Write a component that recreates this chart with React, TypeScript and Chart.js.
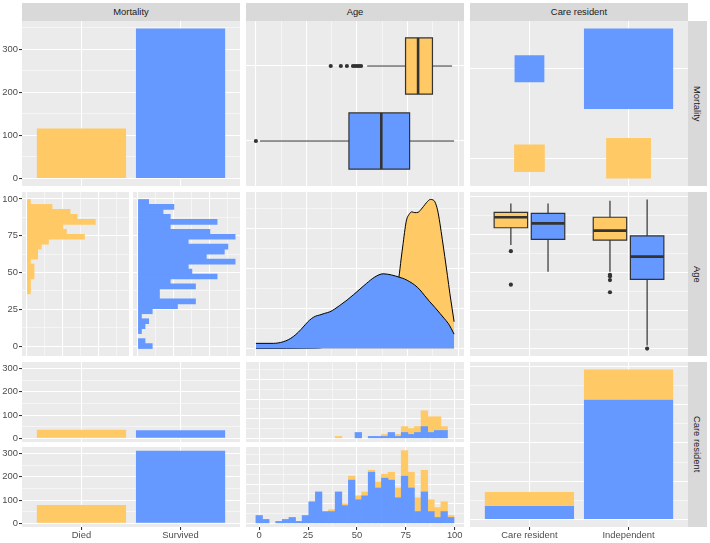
import React, { useEffect, useRef } from "react";
import { Chart, registerables } from "chart.js";

Chart.register(...registerables);

// ---------------- data ----------------
const variableNames = ["Mortality", "Age", "Care resident"];
const mortalityLevels = ["Died", "Survived"];
const careLevels = ["Care resident", "Independent"];

// patient counts
const mortalityTotals = [116, 348]; // Died, Survived
const careResidentByMortality = [37, 35]; // Died, Survived
const independentByMortality = [79, 313]; // Died, Survived

// age histogram: 30 bins (centres, years)
const ageBinCentres = [0, 3.379, 6.759, 10.138, 13.517, 16.897, 20.276, 23.655, 27.034, 30.414, 33.793, 37.172, 40.552, 43.931, 47.31, 50.69, 54.069, 57.448, 60.828, 64.207, 67.586, 70.966, 74.345, 77.724, 81.103, 84.483, 87.862, 91.241, 94.621, 98];
const diedCareResidentHist = [0, 0, 0, 0, 0, 0, 0, 0, 0, 0, 0, 0, 1, 0, 0, 0, 0, 0, 0, 1, 0, 1, 3, 3, 3, 8, 8, 7, 2, 0];
const survivedCareResidentHist = [0, 0, 0, 0, 0, 0, 0, 0, 0, 0, 0, 0, 0, 0, 0, 3, 0, 1, 1, 1, 3, 1, 3, 2, 3, 6, 3, 4, 4, 0];
const diedIndependentHist = [0, 0, 0, 0, 0, 0, 0, 0, 0, 0, 0, 1, 0, 1, 2, 2, 2, 1, 3, 2, 4, 5, 13, 8, 7, 11, 6, 5, 5, 1];
const survivedIndependentHist = [4, 2, 0, 1, 2, 3, 1, 4, 11, 16, 6, 6, 16, 9, 22, 12, 14, 26, 18, 23, 22, 13, 24, 18, 6, 16, 6, 3, 6, 3];

// age densities
const survivedDensityAge = [0, 5, 8.6, 11, 13.5, 16, 18.5, 21, 23.4, 25.5, 27.5, 29.5, 31.6, 34, 36.6, 39, 41.5, 45, 48.1, 51.5, 54.7, 58.8, 62.9, 67.1, 71.2, 73.5, 76.1, 78.5, 81.1, 83.5, 86, 88.5, 91, 93, 95.1, 96.6, 98];
const survivedDensity = [0.0013, 0.0013, 0.0013, 0.0014, 0.0017, 0.0022, 0.003, 0.0041, 0.0054, 0.0066, 0.0075, 0.0081, 0.0084, 0.0088, 0.0092, 0.0099, 0.0108, 0.0121, 0.0134, 0.0149, 0.0163, 0.0179, 0.0187, 0.0184, 0.0178, 0.0174, 0.0167, 0.0159, 0.0147, 0.0132, 0.0117, 0.0103, 0.0088, 0.0076, 0.0063, 0.005, 0.0036];
const diedDensityAge = [0, 30, 34, 37, 40, 44, 48, 52, 56, 60, 64, 67, 69, 70.7, 71.8, 72.8, 73.7, 74.5, 75.8, 77, 78.6, 80.3, 81.5, 82.8, 84.5, 86.3, 87.5, 88.5, 89.8, 91, 92.2, 93.4, 94.7, 95.9, 97, 98];
const diedDensity = [0, 0.0001, 0.0004, 0.0011, 0.0019, 0.0026, 0.0032, 0.0034, 0.0037, 0.0048, 0.0071, 0.0101, 0.0134, 0.0178, 0.0224, 0.0263, 0.0298, 0.0322, 0.0336, 0.0342, 0.034, 0.0341, 0.0347, 0.0355, 0.0366, 0.0373, 0.0372, 0.0367, 0.0347, 0.0313, 0.0272, 0.023, 0.0183, 0.0138, 0.0101, 0.0067];

// boxplot stats: [lower whisker, Q1, median, Q3, upper whisker]
const ageBoxDied = [55, 74, 80.2, 87.3, 97];
const ageOutliersDied = [37, 42, 45, 48, 49, 50, 51, 52];
const ageBoxSurvived = [2, 46, 62, 76, 98];
const ageOutliersSurvived = [0];
const ageBoxCareDied = [68, 79.4, 86.3, 89.5, 95.4];
const ageOutliersCareDied = [64, 42];
const ageBoxCareSurvived = [50.5, 71.8, 82.3, 88.9, 95.4];
const ageOutliersCareSurvived: number[] = [];
const ageBoxIndepDied = [50.5, 71.3, 77.5, 86.3, 97.2];
const ageOutliersIndepDied = [48.5, 47.5, 45, 37];
const ageBoxIndepSurvived = [2, 45.5, 60.4, 74, 98];
const ageOutliersIndepSurvived = [0];

// tick values
const ageMajor = [0, 25, 50, 75, 100];
const ageMinor = [12.5, 37.5, 62.5, 87.5];
const countMajor = [0, 100, 200, 300, 400];
const countMinor = [50, 150, 250, 350];
const binCountMajor = [0, 10, 20, 30];
const binCountMinor = [5, 15, 25, 35];
const densityMajor = [0, 0.01, 0.02, 0.03];
const densityMinor = [0.005, 0.015, 0.025, 0.035];
const discreteMajor = [1, 2];

// ---------------- style ----------------
const FONT = '"Liberation Sans", Arial, Helvetica, sans-serif';
const ORANGE = "#FFC966";
const BLUE = "#6699FF";
const PANEL_BG = "#EBEBEB";
const STRIP_BG = "#D9D9D9";
const DARK = "#333333";
const Y_AXIS_W = 22;
const X_AXIS_H = 16;

type Rect = { l: number; t: number; r: number; b: number };

const COLS = [{ l: 22, r: 240 }, { l: 246, r: 464 }, { l: 470, r: 688 }];
const ROWS = [{ t: 21, b: 186 }, { t: 192, b: 356 }, { t: 362, b: 527 }];
const SUB_GAP = 5;

function expand(lo: number, hi: number) {
  const d = (hi - lo) * 0.05;
  return [lo - d, hi + d];
}
const DISC = [0.4, 2.6];
const sum = (a: number[], b: number[]) => a.map((v, i) => v + b[i]);
const nz = (v: number) => (v === 0 ? null : v);

function axis(o: any) {
  const major: number[] = o.major;
  const minor: number[] = o.minor || [];
  const range: number[] = o.range;
  const all = [...major, ...minor].filter((v) => v >= range[0] && v <= range[1]).sort((a, b) => a - b);
  const idx = (v: number) => major.findIndex((m) => Math.abs(m - v) < 1e-9);
  return {
    type: "linear",
    position: o.horizontal ? "bottom" : "left",
    min: range[0],
    max: range[1],
    bounds: "data",
    offset: false,
    stacked: !!o.stacked,
    border: { display: false },
    grid: {
      offset: false,
      color: "#FFFFFF",
      lineWidth: (c: any) => (c.tick && idx(c.tick.value) >= 0 ? 1.07 : 0.53),
      drawTicks: !!o.show,
      tickLength: 3,
      tickWidth: 1.07,
      tickColor: (c: any) => (c.tick && idx(c.tick.value) >= 0 ? DARK : "rgba(0,0,0,0)"),
    },
    ticks: {
      display: !!o.show,
      autoSkip: false,
      maxRotation: 0,
      minRotation: 0,
      padding: o.horizontal ? 0 : 1,
      color: "#4D4D4D",
      font: { family: FONT, size: 9.4 },
      callback: (v: any) => {
        const i = idx(Number(v));
        if (i < 0) return "";
        return o.labels ? o.labels[i] : String(major[i]);
      },
    },
    afterBuildTicks: (s: any) => {
      s.ticks = all.map((v) => ({ value: v }));
    },
    afterFit: (s: any) => {
      if (o.horizontal) s.height = o.show ? X_AXIS_H : 0;
      else s.width = o.show ? Y_AXIS_W : 0;
      s.paddingLeft = 0;
      s.paddingRight = 0;
      s.paddingTop = 0;
      s.paddingBottom = 0;
    },
  };
}

function rectPoints(x0: number, x1: number, y0: number, y1: number) {
  return [
    { x: x0, y: y0 },
    { x: x1, y: y0 },
    { x: x1, y: y1 },
    { x: x0, y: y1 },
    { x: x0, y: y0 },
  ];
}

function boxplot(stats: number[], outliers: number[], pos: number, hw: number, color: string, horizontal: boolean) {
  const [lo, q1, med, q3, hi] = stats;
  const P = (v: number, p: number) => (horizontal ? { x: v, y: p } : { x: p, y: v });
  return [
    { type: "line", data: [P(lo, pos), P(hi, pos)], borderColor: DARK, borderWidth: 1.2, pointRadius: 0, fill: false, order: 4 },
    {
      type: "line",
      data: [P(q1, pos - hw), P(q3, pos - hw), P(q3, pos + hw), P(q1, pos + hw), P(q1, pos - hw)],
      borderColor: DARK,
      borderWidth: 1.2,
      borderCapStyle: "square",
      borderJoinStyle: "miter",
      backgroundColor: color,
      fill: "shape",
      pointRadius: 0,
      order: 3,
    },
    { type: "line", data: [P(med, pos - hw), P(med, pos + hw)], borderColor: DARK, borderWidth: 2.6, pointRadius: 0, fill: false, order: 2 },
    {
      type: "line",
      data: outliers.map((v) => P(v, pos)),
      showLine: false,
      pointRadius: 2.1,
      pointBackgroundColor: DARK,
      pointBorderWidth: 0,
      pointBorderColor: DARK,
      order: 1,
    },
  ];
}

const panelBackground = {
  id: "panelBackground",
  beforeDraw(chart: any) {
    const { ctx, chartArea: a } = chart;
    ctx.save();
    ctx.fillStyle = PANEL_BG;
    ctx.fillRect(a.left, a.top, a.right - a.left, a.bottom - a.top);
    ctx.restore();
  },
};

// ranges
const boxAges = [
  ...ageBoxDied, ...ageOutliersDied, ...ageBoxSurvived, ...ageOutliersSurvived,
  ...ageBoxCareDied, ...ageOutliersCareDied, ...ageBoxCareSurvived, ...ageOutliersCareSurvived,
  ...ageBoxIndepDied, ...ageOutliersIndepDied, ...ageBoxIndepSurvived, ...ageOutliersIndepSurvived,
];
const BOX_AGE_RANGE = expand(Math.min(...boxAges), Math.max(...boxAges));
const BIN_W = ageBinCentres[1] - ageBinCentres[0];
const HIST_AGE_RANGE = expand(ageBinCentres[0] - BIN_W / 2, ageBinCentres[ageBinCentres.length - 1] + BIN_W / 2);
const diedTotalsHist = sum(diedCareResidentHist, diedIndependentHist);
const survivedTotalsHist = sum(survivedCareResidentHist, survivedIndependentHist);
const DENS_AGE_RANGE = expand(
  Math.min(...survivedDensityAge, ...diedDensityAge),
  Math.max(...survivedDensityAge, ...diedDensityAge)
);

const ageAxis = (range: number[], show: boolean, horizontal: boolean) =>
  axis({ range, major: ageMajor, minor: ageMinor, show, horizontal });

// ---------------- panels ----------------
type PanelDef = { key: string; area: Rect; yLabels?: boolean; xLabels?: boolean; build: () => any };

const row3Top: Rect = { l: 0, r: 0, t: ROWS[2].t, b: (ROWS[2].t + ROWS[2].b - SUB_GAP) / 2 };
const row3Bot: Rect = { l: 0, r: 0, t: (ROWS[2].t + ROWS[2].b + SUB_GAP) / 2, b: ROWS[2].b };

const panels: PanelDef[] = [
  // (1,1) Mortality bar counts
  {
    key: "p11",
    area: { l: COLS[0].l, r: COLS[0].r, t: ROWS[0].t, b: ROWS[0].b },
    yLabels: true,
    build: () => ({
      type: "bar",
      data: {
        datasets: [
          {
            data: mortalityLevels.map((_, i) => ({ x: i + 1, y: mortalityTotals[i] })),
            backgroundColor: [ORANGE, BLUE],
            borderWidth: 0,
            barPercentage: 0.9,
            categoryPercentage: 1,
          },
        ],
      },
      options: {
        scales: {
          x: axis({ range: DISC, major: discreteMajor, horizontal: true }),
          y: axis({ range: expand(0, Math.max(...mortalityTotals)), major: countMajor, minor: countMinor, show: true }),
        },
      },
    }),
  },
  // (1,2) Age boxplots by mortality (horizontal)
  {
    key: "p12",
    area: { l: COLS[1].l, r: COLS[1].r, t: ROWS[0].t, b: ROWS[0].b },
    build: () => ({
      type: "line",
      data: {
        datasets: [
          ...boxplot(ageBoxDied, ageOutliersDied, 2, 0.375, ORANGE, true),
          ...boxplot(ageBoxSurvived, ageOutliersSurvived, 1, 0.375, BLUE, true),
        ],
      },
      options: {
        scales: {
          x: ageAxis(BOX_AGE_RANGE, false, true),
          y: axis({ range: DISC, major: discreteMajor }),
        },
      },
    }),
  },
  // (1,3) Mortality x Care resident tiles
  {
    key: "p13",
    area: { l: COLS[2].l, r: COLS[2].r, t: ROWS[0].t, b: ROWS[0].b },
    build: () => {
      const groups = [careResidentByMortality, independentByMortality];
      const maxN = Math.max(...careResidentByMortality, ...independentByMortality);
      const tiles: any[] = [];
      let lo = Infinity;
      let hi = -Infinity;
      groups.forEach((g, i) => {
        g.forEach((n, j) => {
          const h = 0.45 * Math.sqrt(n / maxN);
          const cx = i + 1;
          const cy = j + 1;
          lo = Math.min(lo, cy - h);
          hi = Math.max(hi, cy + h);
          tiles.push({
            type: "line",
            data: rectPoints(cx - h, cx + h, cy - h, cy + h),
            backgroundColor: j === 0 ? ORANGE : BLUE,
            borderColor: "rgba(0,0,0,0)",
            borderWidth: 0,
            fill: "shape",
            pointRadius: 0,
          });
        });
      });
      return {
        type: "line",
        data: { datasets: tiles },
        options: {
          scales: {
            x: axis({ range: DISC, major: discreteMajor, horizontal: true }),
            y: axis({ range: expand(lo, hi), major: discreteMajor }),
          },
        },
      };
    },
  },
  // (2,1) Age histograms faceted by mortality (horizontal bars)
  {
    key: "p21a",
    area: { l: COLS[0].l, r: 129, t: ROWS[1].t, b: ROWS[1].b },
    yLabels: true,
    build: () => ({
      type: "bar",
      data: {
        datasets: [
          {
            data: ageBinCentres.map((c, i) => ({ x: nz(diedTotalsHist[i]), y: c })),
            backgroundColor: ORANGE,
            borderWidth: 0,
            barPercentage: 1,
            categoryPercentage: 1,
          },
        ],
      },
      options: {
        indexAxis: "y",
        scales: {
          x: axis({ range: expand(0, Math.max(...diedTotalsHist, ...survivedTotalsHist)), major: binCountMajor, minor: binCountMinor, horizontal: true }),
          y: ageAxis(HIST_AGE_RANGE, true, false),
        },
      },
    }),
  },
  {
    key: "p21b",
    area: { l: 133, r: COLS[0].r, t: ROWS[1].t, b: ROWS[1].b },
    build: () => ({
      type: "bar",
      data: {
        datasets: [
          {
            data: ageBinCentres.map((c, i) => ({ x: nz(survivedTotalsHist[i]), y: c })),
            backgroundColor: BLUE,
            borderWidth: 0,
            barPercentage: 1,
            categoryPercentage: 1,
          },
        ],
      },
      options: {
        indexAxis: "y",
        scales: {
          x: axis({ range: expand(0, Math.max(...diedTotalsHist, ...survivedTotalsHist)), major: binCountMajor, minor: binCountMinor, horizontal: true }),
          y: ageAxis(HIST_AGE_RANGE, false, false),
        },
      },
    }),
  },
  // (2,2) Age densities
  {
    key: "p22",
    area: { l: COLS[1].l, r: COLS[1].r, t: ROWS[1].t, b: ROWS[1].b },
    build: () => ({
      type: "line",
      data: {
        datasets: [
          {
            data: survivedDensityAge.map((a, i) => ({ x: a, y: survivedDensity[i] })),
            backgroundColor: BLUE,
            borderColor: "#000000",
            borderWidth: 1,
            fill: "origin",
            cubicInterpolationMode: "monotone",
            pointRadius: 0,
            order: 1,
          },
          {
            data: diedDensityAge.map((a, i) => ({ x: a, y: diedDensity[i] })),
            backgroundColor: ORANGE,
            borderColor: "#000000",
            borderWidth: 1,
            fill: "origin",
            cubicInterpolationMode: "monotone",
            pointRadius: 0,
            order: 2,
          },
        ],
      },
      options: {
        scales: {
          x: ageAxis(DENS_AGE_RANGE, false, true),
          y: axis({ range: expand(0, Math.max(...survivedDensity, ...diedDensity)), major: densityMajor, minor: densityMinor }),
        },
      },
    }),
  },
  // (2,3) Age boxplots by care residence and mortality
  {
    key: "p23",
    area: { l: COLS[2].l, r: COLS[2].r, t: ROWS[1].t, b: ROWS[1].b },
    build: () => ({
      type: "line",
      data: {
        datasets: [
          ...boxplot(ageBoxCareDied, ageOutliersCareDied, 1 - 0.1875, 0.16875, ORANGE, false),
          ...boxplot(ageBoxCareSurvived, ageOutliersCareSurvived, 1 + 0.1875, 0.16875, BLUE, false),
          ...boxplot(ageBoxIndepDied, ageOutliersIndepDied, 2 - 0.1875, 0.16875, ORANGE, false),
          ...boxplot(ageBoxIndepSurvived, ageOutliersIndepSurvived, 2 + 0.1875, 0.16875, BLUE, false),
        ],
      },
      options: {
        scales: {
          x: axis({ range: DISC, major: discreteMajor, horizontal: true }),
          y: ageAxis(BOX_AGE_RANGE, false, false),
        },
      },
    }),
  },
  // (3,1) Mortality counts faceted by care residence
  ...[careResidentByMortality, independentByMortality].map((g, k) => ({
    key: "p31" + k,
    area: { l: COLS[0].l, r: COLS[0].r, t: k === 0 ? row3Top.t : row3Bot.t, b: k === 0 ? row3Top.b : row3Bot.b },
    yLabels: true,
    xLabels: k === 1,
    build: () => ({
      type: "bar",
      data: {
        datasets: [
          {
            data: mortalityLevels.map((_, i) => ({ x: i + 1, y: g[i] })),
            backgroundColor: [ORANGE, BLUE],
            borderWidth: 0,
            barPercentage: 0.9,
            categoryPercentage: 1,
          },
        ],
      },
      options: {
        scales: {
          x: axis({ range: DISC, major: discreteMajor, labels: mortalityLevels, horizontal: true, show: k === 1 }),
          y: axis({
            range: expand(0, Math.max(...careResidentByMortality, ...independentByMortality)),
            major: countMajor,
            minor: countMinor,
            show: true,
          }),
        },
      },
    }),
  })),
  // (3,2) Age histograms faceted by care residence, stacked by mortality
  ...[
    [survivedCareResidentHist, diedCareResidentHist],
    [survivedIndependentHist, diedIndependentHist],
  ].map((g, k) => ({
    key: "p32" + k,
    area: { l: COLS[1].l, r: COLS[1].r, t: k === 0 ? row3Top.t : row3Bot.t, b: k === 0 ? row3Top.b : row3Bot.b },
    xLabels: k === 1,
    build: () => {
      const maxStack = Math.max(
        ...sum(survivedCareResidentHist, diedCareResidentHist),
        ...sum(survivedIndependentHist, diedIndependentHist)
      );
      return {
        type: "bar",
        data: {
          datasets: [
            {
              data: ageBinCentres.map((c, i) => ({ x: c, y: nz(g[0][i]) })),
              backgroundColor: BLUE,
              borderWidth: 0,
              barPercentage: 1,
              categoryPercentage: 1,
            },
            {
              data: ageBinCentres.map((c, i) => ({ x: c, y: nz(g[1][i]) })),
              backgroundColor: ORANGE,
              borderWidth: 0,
              barPercentage: 1,
              categoryPercentage: 1,
            },
          ],
        },
        options: {
          scales: {
            x: { ...ageAxis(HIST_AGE_RANGE, k === 1, true), stacked: true },
            y: axis({ range: expand(0, maxStack), major: binCountMajor, minor: binCountMinor, stacked: true }),
          },
        },
      };
    },
  })),
  // (3,3) Care residence counts stacked by mortality
  {
    key: "p33",
    area: { l: COLS[2].l, r: COLS[2].r, t: ROWS[2].t, b: ROWS[2].b },
    xLabels: true,
    build: () => {
      const totals = sum(careResidentByMortality, independentByMortality).length
        ? [careResidentByMortality[0] + careResidentByMortality[1], independentByMortality[0] + independentByMortality[1]]
        : [0, 0];
      const groups = [careResidentByMortality, independentByMortality];
      return {
        type: "bar",
        data: {
          datasets: [
            {
              data: careLevels.map((_, i) => ({ x: i + 1, y: groups[i][1] })),
              backgroundColor: BLUE,
              borderWidth: 0,
              barPercentage: 0.9,
              categoryPercentage: 1,
            },
            {
              data: careLevels.map((_, i) => ({ x: i + 1, y: groups[i][0] })),
              backgroundColor: ORANGE,
              borderWidth: 0,
              barPercentage: 0.9,
              categoryPercentage: 1,
            },
          ],
        },
        options: {
          scales: {
            x: axis({ range: DISC, major: discreteMajor, labels: careLevels, horizontal: true, show: true, stacked: true }),
            y: axis({ range: expand(0, Math.max(...totals)), major: countMajor, minor: countMinor, stacked: true }),
          },
        },
      };
    },
  },
];

function ChartPanel({ def }: { def: PanelDef }) {
  const ref = useRef<HTMLCanvasElement | null>(null);
  const a = def.area;
  const cl = def.yLabels ? 0 : Math.floor(a.l) - 4;
  const ct = Math.floor(a.t) - 6;
  const cr = Math.ceil(a.r) + 4;
  const cb = def.xLabels ? 543 : Math.ceil(a.b) + 6;
  const w = cr - cl;
  const h = cb - ct;
  useEffect(() => {
    const cfg = def.build();
    cfg.options = cfg.options || {};
    cfg.options.responsive = false;
    cfg.options.maintainAspectRatio = false;
    cfg.options.animation = false;
    cfg.options.events = [];
    cfg.options.devicePixelRatio = 1;
    cfg.options.layout = {
      padding: {
        left: a.l - cl - (def.yLabels ? Y_AXIS_W : 0),
        top: a.t - ct,
        right: cr - a.r,
        bottom: cb - a.b - (def.xLabels ? X_AXIS_H : 0),
      },
    };
    cfg.options.plugins = { legend: { display: false }, tooltip: { enabled: false }, title: { display: false } };
    cfg.plugins = [panelBackground];
    const chart = new Chart(ref.current as HTMLCanvasElement, cfg);
    return () => chart.destroy();
  }, []);
  return (
    <canvas
      ref={ref}
      width={w}
      height={h}
      style={{ position: "absolute", left: cl, top: ct, width: w, height: h }}
    />
  );
}

const stripBase: any = {
  position: "absolute",
  background: STRIP_BG,
  color: "#1A1A1A",
  fontFamily: FONT,
  fontSize: 9.4,
  lineHeight: 1,
  display: "flex",
  alignItems: "center",
  justifyContent: "center",
  whiteSpace: "nowrap",
};

export default function App() {
  return (
    <div
      style={{
        position: "fixed",
        left: 0,
        top: 0,
        width: 710,
        height: 543,
        background: "#FFFFFF",
        overflow: "hidden",
      }}
    >
      {variableNames.map((name, i) => (
        <div
          key={"top" + i}
          style={{ ...stripBase, left: COLS[i].l, top: 3, width: COLS[i].r - COLS[i].l, height: ROWS[0].t - 3 }}
        >
          {name}
        </div>
      ))}
      {variableNames.map((name, i) => (
        <div
          key={"right" + i}
          style={{
            ...stripBase,
            left: COLS[2].r,
            top: ROWS[i].t,
            width: 19,
            height: ROWS[i].b - ROWS[i].t,
            writingMode: "vertical-rl",
          }}
        >
          {name}
        </div>
      ))}
      {panels.map((p) => (
        <ChartPanel key={p.key} def={p} />
      ))}
    </div>
  );
}
